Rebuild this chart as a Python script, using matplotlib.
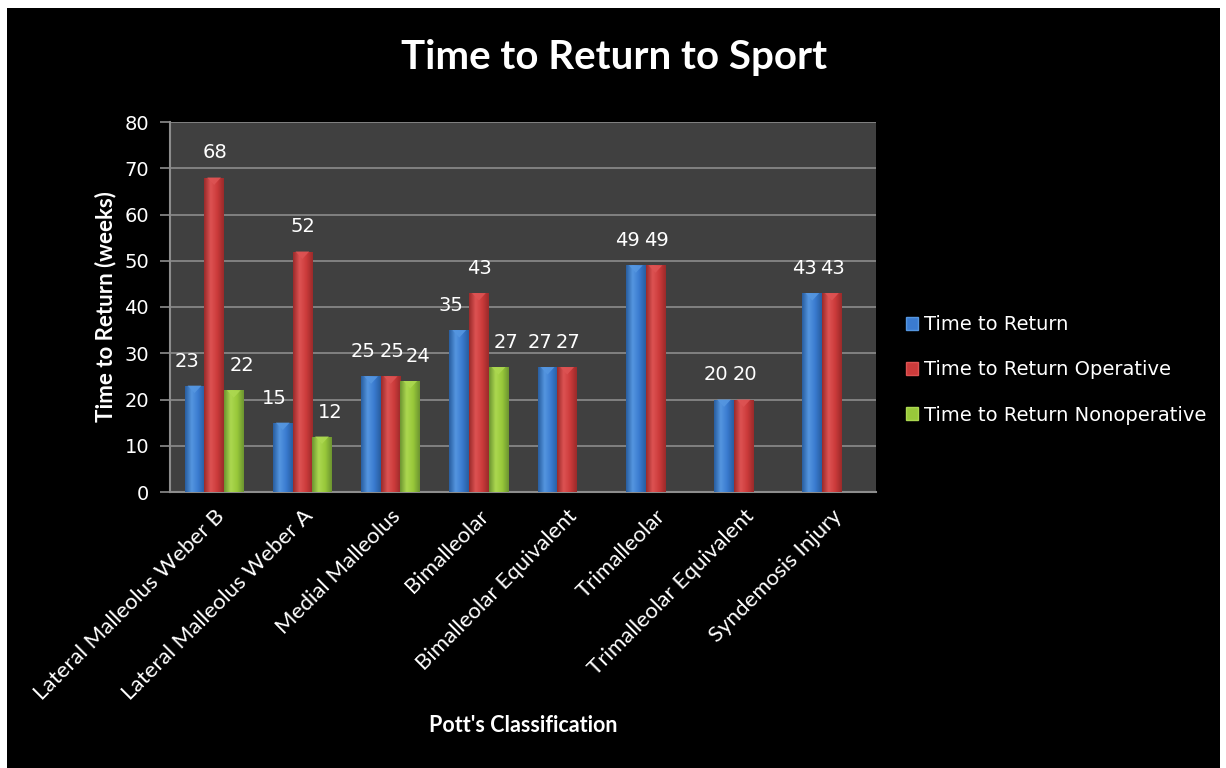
import numpy as np
import matplotlib
matplotlib.use("Agg")
import matplotlib.pyplot as plt
from matplotlib.patches import Rectangle, Patch
from matplotlib.colors import LinearSegmentedColormap

plt.rcParams["font.family"] = "DejaVu Sans"
HEAD = "Lato"

categories = ["Lateral Malleolus Weber B", "Lateral Malleolus Weber A",
              "Medial Malleolus", "Bimalleolar", "Bimalleolar Equivalent",
              "Trimalleolar", "Trimalleolar Equivalent", "Syndemosis Injury"]
time_to_return = [23, 15, 25, 35, 27, 49, 20, 43]
time_operative = [68, 52, 25, 43, 27, 49, 20, 43]
time_nonoperative = [22, 12, 24, 27, np.nan, np.nan, np.nan, np.nan]
series_names = ["Time to Return", "Time to Return Operative",
                "Time to Return Nonoperative"]
yticks = [0, 10, 20, 30, 40, 50, 60, 70, 80]

series = [time_to_return, time_operative, time_nonoperative]
base_colors = ["#3a7bd0", "#cc3b3b", "#98c83a"]
light_colors = ["#5596e0", "#dd5353", "#acd850"]
dark_colors = ["#285d9f", "#9a2a2a", "#6c9430"]
label_dx = [-8, 1, 8]

fig = plt.figure(figsize=(12.26, 7.68), dpi=100, facecolor="white")
fig.patches.append(Rectangle((7 / 1226, 0), 1213 / 1226, 760 / 768,
                             transform=fig.transFigure, facecolor="black",
                             edgecolor="none", zorder=-10))

ax = fig.add_axes([170 / 1226, 276 / 768, 706 / 1226, 370 / 768])
ax.set_facecolor("#404040")

x = np.arange(len(categories))
w = 0.222
for i, vals in enumerate(series):
    cmap = LinearSegmentedColormap.from_list(
        "g", [dark_colors[i], light_colors[i], base_colors[i], dark_colors[i]])
    grad = np.linspace(0, 1, 64).reshape(1, -1)
    xs = x + (i - 1) * w
    bars = ax.bar(xs, vals, width=w, color=base_colors[i], edgecolor="none",
                  zorder=2)
    for xc, bar, v in zip(xs, bars, vals):
        if np.isnan(v):
            continue
        x0 = bar.get_x()
        im = ax.imshow(grad, cmap=cmap, aspect="auto", zorder=3,
                       extent=(x0, x0 + w, 0, v), interpolation="bicubic")
        im.set_clip_path(bar)
        # bevel triangle at top
        ax.fill([x0 + w * 0.15, x0 + w * 0.85, x0 + w * 0.5],
                [v, v, v - 1.6], color=light_colors[i], alpha=0.9,
                zorder=4, lw=0)
        ax.annotate(f"{v:.0f}", (xc, v),
                    xytext=(label_dx[i], 15), textcoords="offset pixels",
                    ha="center", va="bottom", color="white", fontsize=14)

ax.set_xlim(-0.5, len(categories) - 0.5)
ax.set_ylim(0, 80)
ax.set_yticks(yticks)
ax.yaxis.grid(True, color="#8c8c8c", linewidth=1.2)
ax.set_axisbelow(True)
for s in ["top", "right"]:
    ax.spines[s].set_visible(False)
for s in ["left", "bottom"]:
    ax.spines[s].set_color("#8c8c8c")
    ax.spines[s].set_linewidth(1.5)
ax.tick_params(axis="y", colors="#8c8c8c", labelcolor="white",
               labelsize=14, length=7, width=1.2, pad=8)
ax.set_xticks(x)
ax.set_xticklabels(categories, rotation=45, ha="right", va="top",
                   rotation_mode="anchor", fontsize=16, family=HEAD,
                   color="white")
ax.tick_params(axis="x", length=0, pad=10)

ax.set_ylabel("Time to Return (weeks)", color="white", fontsize=16,
              fontweight="bold", family=HEAD, labelpad=6)
fig.text(523 / 1226, 1 - 726 / 768, "Pott's Classification", color="white",
         fontsize=15.5, fontweight="bold", family=HEAD, ha="center",
         va="center")
fig.text(614 / 1226, 1 - 58 / 768, "Time to Return to Sport", color="white",
         fontsize=29, fontweight="bold", family=HEAD, ha="center",
         va="center")

handles = [Patch(facecolor=base_colors[i], edgecolor=light_colors[i],
                 label=series_names[i]) for i in range(3)]
leg = fig.legend(handles=handles, loc="center left",
                 bbox_to_anchor=(888 / 1226, 1 - 370 / 768), frameon=False,
                 fontsize=14, labelcolor="white", handlelength=0.65,
                 handleheight=0.65, handletextpad=0.3, labelspacing=1.35)

fig.savefig("out.png", dpi=100, facecolor="white")
